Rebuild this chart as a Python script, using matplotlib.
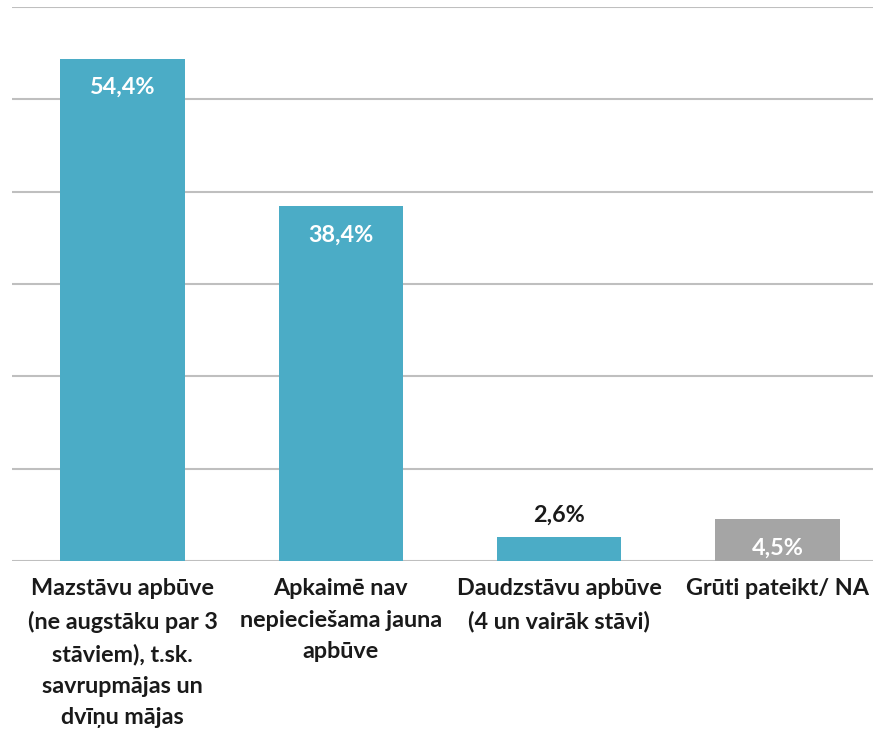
import matplotlib
matplotlib.use("Agg")
import matplotlib.pyplot as plt

# dati
categories = ["Mazstāvu apbūve\n(ne augstāku par 3\nstāviem), t.sk.\nsavrupmājas un\ndvīņu mājas",
              "Apkaimē nav\nnepieciešama jauna\napbūve",
              "Daudzstāvu apbūve\n(4 un vairāk stāvi)",
              "Grūti pateikt/ NA"]
values = [54.4, 38.4, 2.6, 4.5]
labels = ["54,4%", "38,4%", "2,6%", "4,5%"]
colors = ["#4BACC6", "#4BACC6", "#4BACC6", "#A5A5A5"]

plt.rcParams['font.family'] = ['Lato', 'DejaVu Sans']

fig = plt.figure(figsize=(8.73, 7.30), dpi=100)
ax = fig.add_axes([12/873, 169/730, 861/873, 554/730])

x = range(len(values))
bars = ax.bar(x, values, width=0.57, color=colors, zorder=2)

ax.set_ylim(0, 60)
ax.set_xlim(-0.506, 3.438)
ax.set_yticks(range(0, 61, 10))
ax.yaxis.grid(True, color="#BFBFBF", linewidth=1.5, zorder=0)
ax.tick_params(axis='y', left=False, labelleft=False)
ax.tick_params(axis='x', bottom=False)
for s in ax.spines.values():
    s.set_visible(False)

ax.set_xticks(list(x))
ax.set_xticklabels(categories, fontsize=16.8, fontweight='bold', color='#1a1a1a', linespacing=1.62)
ax.tick_params(axis='x', pad=9)

# vērtību etiķetes
for i, (v, lab) in enumerate(zip(values, labels)):
    if v > 4:
        ax.text(i, v - 2.0, lab, ha='center', va='top', color='white',
                fontsize=16.8, fontweight='bold')
    else:
        ax.text(i, v + 1.2, lab, ha='center', va='bottom', color='#1a1a1a',
                fontsize=16.8, fontweight='bold')

fig.savefig("out.png", dpi=100)
